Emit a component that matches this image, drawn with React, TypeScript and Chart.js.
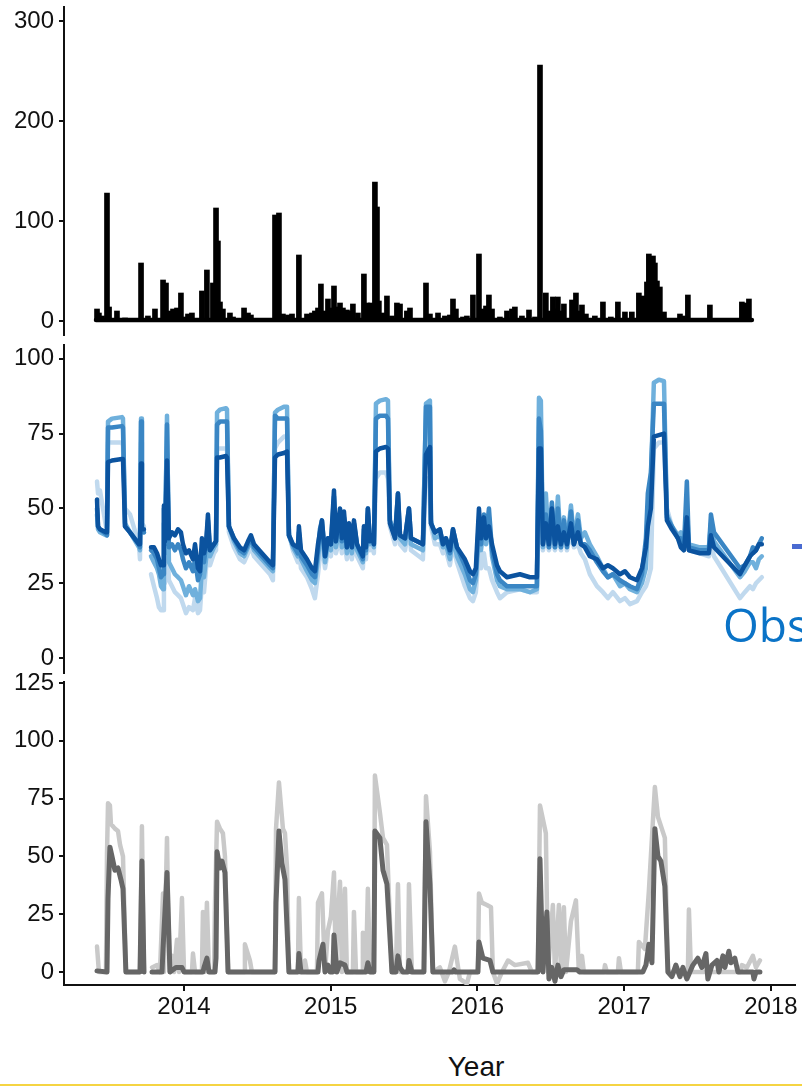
import React, { useEffect, useRef } from "react";
import { Chart, registerables } from "chart.js";
Chart.register(...registerables);

const FONT = "'Liberation Sans', Arial, sans-serif";
const AXIS = "#111111";
const X_MIN = 2013.182;
const X_MAX = 2018.164;

const yearTicks = [2014, 2015, 2016, 2017, 2018];
const rainTicks = [0, 100, 200, 300];
const midTicks = [0, 25, 50, 75, 100];
const lowTicks = [0, 25, 50, 75, 100, 125];

// top panel: daily spikes [year, value]
const rainBars = [
  [2013.407, 12], [2013.42, 8], [2013.441, 5], [2013.475, 128], [2013.489, 14], [2013.543, 10], [2013.598, 3],
  [2013.707, 58], [2013.754, 5], [2013.802, 12], [2013.857, 41], [2013.877, 38], [2013.904, 10], [2013.925, 12],
  [2013.952, 13], [2013.979, 28], [2014.007, 4], [2014.027, 7], [2014.054, 8], [2014.122, 30], [2014.156, 51],
  [2014.197, 38], [2014.218, 113], [2014.231, 80], [2014.245, 19], [2014.265, 12], [2014.313, 8], [2014.334, 4],
  [2014.409, 13], [2014.436, 8], [2014.456, 6], [2014.538, 2], [2014.565, 2], [2014.62, 106], [2014.647, 108],
  [2014.674, 7], [2014.708, 6], [2014.736, 7], [2014.783, 66], [2014.838, 7], [2014.858, 6], [2014.872, 8],
  [2014.892, 10], [2014.913, 13], [2014.933, 37], [2014.961, 10], [2014.981, 22], [2015.001, 13], [2015.022, 35],
  [2015.042, 14], [2015.063, 18], [2015.083, 13], [2015.11, 11], [2015.131, 10], [2015.151, 17], [2015.185, 8],
  [2015.226, 47], [2015.247, 18], [2015.274, 18], [2015.301, 139], [2015.315, 114], [2015.328, 20], [2015.356, 8],
  [2015.383, 25], [2015.417, 5], [2015.451, 18], [2015.472, 17], [2015.519, 10], [2015.54, 13], [2015.649, 38],
  [2015.676, 7], [2015.731, 8], [2015.778, 5], [2015.812, 6], [2015.833, 22], [2015.853, 12], [2015.901, 4],
  [2015.928, 5], [2015.969, 26], [2016.01, 67], [2016.037, 12], [2016.058, 15], [2016.078, 26], [2016.099, 12],
  [2016.153, 4], [2016.201, 10], [2016.235, 12], [2016.255, 14], [2016.303, 5], [2016.351, 11], [2016.392, 4],
  [2016.426, 256], [2016.466, 28], [2016.487, 10], [2016.514, 24], [2016.535, 12], [2016.548, 24], [2016.569, 10],
  [2016.589, 17], [2016.644, 21], [2016.671, 28], [2016.691, 10], [2016.712, 16], [2016.739, 7], [2016.8, 5],
  [2016.855, 19], [2016.909, 4], [2016.957, 19], [2017.005, 9], [2017.052, 9], [2017.1, 28], [2017.127, 25],
  [2017.155, 39], [2017.168, 67], [2017.182, 40], [2017.196, 65], [2017.209, 58], [2017.223, 40], [2017.243, 34],
  [2017.271, 9], [2017.311, 2], [2017.38, 7], [2017.4, 5], [2017.434, 26], [2017.482, 2], [2017.516, 2],
  [2017.584, 16], [2017.652, 1], [2017.72, 1], [2017.802, 19], [2017.822, 18], [2017.85, 22],
];
const rainBase = [[2013.4, 1], [2017.87, 1]];

// middle panel: shared dates + four series
const midYears = [
  2013.407, 2013.414, 2013.427, 2013.468, 2013.475, 2013.482, 2013.509, 2013.577, 2013.584, 2013.598,
  2013.632, 2013.693, 2013.7, 2013.707, 2013.713, 2013.727, 2013.748, 2013.775, 2013.795, 2013.816,
  2013.829, 2013.843, 2013.857, 2013.863, 2013.87, 2013.884, 2013.897, 2013.918, 2013.938, 2013.959,
  2013.979, 2013.993, 2014.013, 2014.034, 2014.061, 2014.075, 2014.095, 2014.109, 2014.122, 2014.136,
  2014.15, 2014.163, 2014.177, 2014.204, 2014.218, 2014.225, 2014.245, 2014.286, 2014.293, 2014.306,
  2014.34, 2014.381, 2014.409, 2014.436, 2014.456, 2014.477, 2014.531, 2014.586, 2014.606, 2014.62,
  2014.64, 2014.681, 2014.702, 2014.715, 2014.742, 2014.776, 2014.783, 2014.797, 2014.838, 2014.872,
  2014.892, 2014.913, 2014.926, 2014.94, 2014.961, 2014.981, 2015.001, 2015.022, 2015.035, 2015.063,
  2015.076, 2015.09, 2015.11, 2015.124, 2015.144, 2015.158, 2015.179, 2015.219, 2015.226, 2015.24,
  2015.253, 2015.267, 2015.281, 2015.294, 2015.308, 2015.335, 2015.376, 2015.39, 2015.403, 2015.438,
  2015.458, 2015.472, 2015.506, 2015.533, 2015.547, 2015.628, 2015.649, 2015.676, 2015.683, 2015.71,
  2015.744, 2015.765, 2015.785, 2015.812, 2015.833, 2015.86, 2015.914, 2015.949, 2015.969, 2015.989,
  2016.01, 2016.024, 2016.044, 2016.058, 2016.078, 2016.099, 2016.133, 2016.153, 2016.201, 2016.289,
  2016.357, 2016.405, 2016.419, 2016.432, 2016.446, 2016.466, 2016.487, 2016.507, 2016.528, 2016.548,
  2016.569, 2016.589, 2016.61, 2016.637, 2016.657, 2016.685, 2016.705, 2016.732, 2016.766, 2016.814,
  2016.855, 2016.889, 2016.923, 2016.971, 2017.005, 2017.039, 2017.087, 2017.121, 2017.148, 2017.161,
  2017.182, 2017.202, 2017.236, 2017.271, 2017.291, 2017.325, 2017.366, 2017.386, 2017.407, 2017.427,
  2017.441, 2017.516, 2017.577, 2017.591, 2017.612, 2017.789, 2017.822, 2017.857, 2017.877, 2017.898,
  2017.918, 2017.938,
];
const midLightest = [
  59, 55, 56, 44, 44, 72, 72, 72, 71, 50,
  48, 38, 33, 72, 45, 44, null, 28, 24, 20,
  17, 16, 16, 30, 25, 40, 26, 24, 22, 21,
  20, 18, 15, 17, 16, 20, 15, 16, 25, 22,
  30, 35, 31, 35, 36, 70, 70, 70, 70, 42,
  37, 33, 32, 35, 37, 34, 31, 28, 26, 70,
  72, 74, 74, 42, 36, 32, 38, 30, 27, 23,
  20, 28, 34, 38, 30, 36, 34, 46, 35, 40,
  35, 40, 33, 38, 33, 39, 34, 30, 38, 33,
  44, 36, 38, 35, 60, 62, 62, 60, 44, 38,
  48, 38, 36, 44, 36, 33, 60, 60, 44, 38,
  38, 35, 36, 31, 38, 32, 24, 20, 19, 22,
  36, 30, 35, 30, 30, 26, 22, 20, 22, 23,
  22, 22, 60, 40, 36, 40, 36, 40, 36, 40,
  36, 42, 36, 42, 37, 38, 35, 33, 28, 24,
  22, 20, 22, 19, 20, 18, 19, 22, 24, 26,
  30, 70, 72, 72, 50, 44, 40, 38, 36, 42,
  36, 35, 34, 38, 34, 20, 22, 24, 23, 25,
  26, 27,
];
const midLight = [
  48, 43, 42, 41, 41, 79, 80, 80.5, 80, 45,
  42, 37, 36, 80, 43, 42, null, 34, 32, 30,
  28, 24, 23, 45, 35, 81, 32, 30, 28, 27,
  26, 24, 21, 24, 21, 23, 19, 20, 30, 27,
  33, 40, 34, 37, 38, 82, 83, 83.5, 83, 44,
  39, 35, 34, 37, 39, 36, 33, 30, 29, 82,
  83, 84, 84, 41, 37, 34, 40, 33, 29, 26,
  25, 33, 40, 42, 32, 38, 36, 50, 37, 44,
  37, 44, 35, 41, 35, 42, 36, 32, 41, 35,
  48, 38, 40, 37, 85, 86, 86.5, 86, 46, 40,
  52, 40, 38, 48, 38, 36, 85, 86, 46, 40,
  41, 37, 38, 33, 40, 34, 28, 23, 22, 26,
  42, 36, 45, 38, 47, 34, 26, 24, 23, 23,
  22, 23, 87, 86, 37, 55, 37, 50, 37, 54,
  37, 47, 38, 51, 40, 48, 40, 42, 38, 34,
  30, 27, 28, 24, 25, 23, 22, 25, 30, 45,
  60, 92, 93, 92.5, 48, 44, 41, 42, 38, 50,
  38, 37, 37, 45, 39, 27, 29, 32, 32, 30,
  33, 34,
];
const midMedium = [
  50, 44, 43, 41.5, 41, 77, 77, 77.5, 77, 44,
  42, 38, 37, 79, 42, 42, null, 36, 35, 33,
  30, 27, 28, 50, 38, 78, 37, 38, 36, 38,
  36, 33, 30, 32, 29, 33, 26, 28, 36, 32,
  38, 46, 36, 38, 39, 78, 79, 79, 79, 44,
  40, 36, 35, 38, 40, 37, 34, 31, 30, 81,
  80, 80, 80, 41, 38, 35, 42, 34, 31, 28,
  27, 36, 43, 46, 34, 40, 38, 54, 39, 48,
  39, 47, 37, 44, 37, 45, 38, 33, 43, 36,
  50, 39, 41, 38, 80, 81, 81, 80, 46, 41,
  55, 41, 40, 50, 40, 38, 84, 84, 45, 42,
  43, 38, 40, 35, 43, 37, 31, 26, 25, 28,
  46, 38, 48, 40, 50, 36, 28, 26, 24, 24,
  24, 24, 80, 76, 38, 48, 37, 52, 37, 50,
  37, 46, 37, 49, 38, 46, 38, 38, 36, 32,
  29, 27, 28, 26, 25, 24, 23, 28, 40, 55,
  62, 85, 85, 85, 47, 44, 40, 40, 37, 59,
  37, 36, 36, 48, 42, 30, 31, 34, 37, 36,
  38, 40,
];
const midDark = [
  53, 44, 43, 42, 42, 65.5, 66, 66.5, 66.5, 44,
  42, 38, 38, 65, 43, 43, null, 37, 37, 35,
  33, 31, 31, 51, 39, 66, 40, 42, 41, 43,
  42, 38, 35, 36, 33, 38, 30, 29, 40, 35,
  38, 48, 36, 38, 39, 67, 67, 67.5, 67, 44,
  40, 37, 36, 39, 41, 38, 35, 32, 31, 67,
  68, 68.5, 69, 41, 38, 37, 44, 36, 33, 30,
  29, 38, 42, 46, 34, 40, 38, 56, 39, 50,
  40, 49, 37, 45, 37, 46, 38, 34, 44, 37,
  50, 39, 41, 38, 69, 70, 70.5, 70, 45, 40,
  55, 41, 40, 50, 40, 38, 68, 70.5, 45, 42,
  43, 38, 40, 36, 43, 37, 33, 29, 28, 30,
  50, 40, 47, 40, 44, 38, 31, 29, 27, 28,
  27, 27, 70, 70, 38, 45, 38, 50, 38, 44,
  38, 42, 38, 45, 38, 42, 38, 37, 34, 33,
  30, 31, 30, 28, 29, 27, 26, 30, 37, 44,
  50, 74, 74.5, 75, 46, 43, 40, 37, 36, 47,
  36, 35, 35, 41, 37, 28, 31, 34, 35, 36,
  38, 38,
];

// bottom panel: two series [year, value]
const grayDark = [
  [2013.407, 0.5], [2013.475, 0], [2013.482, 32], [2013.495, 54], [2013.509, 50], [2013.529, 44], [2013.55, 45],
  [2013.57, 40], [2013.584, 36], [2013.604, 0], [2013.7, 0], [2013.713, 48], [2013.727, 0], [2013.748, null],
  [2013.782, 0], [2013.85, 0], [2013.857, 10], [2013.884, 43], [2013.904, 0], [2013.945, 2], [2013.986, 2],
  [2014.0, 0], [2014.129, 0], [2014.136, 2], [2014.156, 6], [2014.17, 0], [2014.211, 0], [2014.218, 6],
  [2014.225, 52], [2014.245, 45], [2014.259, 48], [2014.279, 43], [2014.3, 0], [2014.62, 0], [2014.627, 30],
  [2014.647, 61], [2014.667, 47], [2014.688, 40], [2014.715, 0], [2014.776, 0], [2014.783, 8], [2014.797, 0],
  [2014.913, 0], [2014.92, 5], [2014.947, 12], [2014.961, 0], [2014.981, 3], [2014.995, 0], [2015.015, 0],
  [2015.022, 16], [2015.042, 0], [2015.063, 4], [2015.097, 3], [2015.11, 0], [2015.24, 0], [2015.253, 4],
  [2015.267, 0], [2015.294, 0], [2015.301, 61], [2015.335, 58], [2015.356, 44], [2015.383, 38], [2015.417, 0],
  [2015.444, 0], [2015.458, 7], [2015.472, 2], [2015.492, 0], [2015.526, 0], [2015.533, 5], [2015.553, 0],
  [2015.635, 0], [2015.649, 65], [2015.676, 38], [2015.696, 0], [2015.833, 0], [2015.84, 1], [2015.853, 0],
  [2016.003, 0], [2016.01, 13], [2016.037, 6], [2016.085, 5], [2016.105, 0], [2016.412, 0], [2016.426, 49],
  [2016.446, 0], [2016.473, 26], [2016.487, -3], [2016.507, 2], [2016.528, -4], [2016.548, 3], [2016.569, -2],
  [2016.589, 1], [2016.678, 1], [2016.698, 0], [2017.127, 0], [2017.148, 3], [2017.168, 12], [2017.189, 4],
  [2017.209, 62], [2017.23, 50], [2017.25, 48], [2017.277, 37], [2017.298, 0], [2017.325, -2], [2017.352, 3],
  [2017.38, -2], [2017.4, 2], [2017.427, -3], [2017.468, 3], [2017.502, 6], [2017.529, 2], [2017.557, 8],
  [2017.57, -3], [2017.598, 3], [2017.632, 5], [2017.645, 0], [2017.673, 7], [2017.686, 2], [2017.713, 9],
  [2017.727, 4], [2017.754, 6], [2017.775, 0], [2017.877, 0], [2017.884, -3], [2017.898, 0], [2017.925, 0],
];
const grayLight = [
  [2013.407, 11], [2013.42, 0], [2013.468, 0], [2013.475, 51], [2013.482, 73], [2013.495, 72], [2013.502, 64],
  [2013.529, 62], [2013.55, 61], [2013.564, 55], [2013.584, 50], [2013.604, 0], [2013.7, 0], [2013.713, 63],
  [2013.727, 0], [2013.748, null], [2013.782, 2], [2013.816, 3], [2013.836, 0], [2013.857, 34], [2013.863, 0],
  [2013.884, 58], [2013.891, 30], [2013.904, 0], [2013.918, 7], [2013.932, 0], [2013.952, 14], [2013.966, 0],
  [2013.986, 32], [2014.0, 0], [2014.054, 0], [2014.061, 8], [2014.075, 0], [2014.122, 0], [2014.129, 26],
  [2014.143, 0], [2014.156, 30], [2014.17, 0], [2014.204, 0], [2014.211, 29], [2014.225, 65], [2014.245, 62],
  [2014.265, 60], [2014.279, 50], [2014.3, 0], [2014.409, 0], [2014.415, 12], [2014.449, 5], [2014.463, 0],
  [2014.62, 0], [2014.627, 62], [2014.647, 82], [2014.674, 62], [2014.688, 60], [2014.702, 45], [2014.715, 0],
  [2014.776, 0], [2014.783, 32], [2014.797, 0], [2014.824, 5], [2014.838, 0], [2014.906, 0], [2014.913, 30],
  [2014.94, 34], [2014.961, 0], [2014.981, 18], [2015.001, 24], [2015.022, 43], [2015.035, 0], [2015.042, 17],
  [2015.063, 39], [2015.076, 0], [2015.097, 36], [2015.11, 0], [2015.151, 0], [2015.158, 26], [2015.172, 0],
  [2015.213, 0], [2015.219, 17], [2015.24, 0], [2015.253, 36], [2015.267, 0], [2015.294, 0], [2015.301, 85],
  [2015.335, 69], [2015.356, 58], [2015.383, 55], [2015.417, 0], [2015.444, 0], [2015.458, 38], [2015.472, 0],
  [2015.526, 0], [2015.533, 38], [2015.553, 0], [2015.635, 0], [2015.649, 76], [2015.676, 52], [2015.696, 0],
  [2015.744, 2], [2015.778, -4], [2015.805, 0], [2015.846, 11], [2015.88, -3], [2015.928, -5], [2015.949, 0],
  [2016.003, 0], [2016.01, 34], [2016.03, 30], [2016.064, 29], [2016.092, 28], [2016.105, 0], [2016.133, -5],
  [2016.167, 0], [2016.208, 5], [2016.255, 3], [2016.344, 4], [2016.371, 0], [2016.412, 0], [2016.426, 72],
  [2016.466, 60], [2016.48, 0], [2016.514, 29], [2016.528, 0], [2016.555, 29], [2016.569, 0], [2016.589, 28],
  [2016.603, 0], [2016.637, 22], [2016.671, 31], [2016.691, 0], [2016.712, 7], [2016.725, 0], [2016.862, 0],
  [2016.869, 3], [2016.882, 0], [2016.957, 0], [2016.964, 6], [2016.978, 0], [2017.093, 0], [2017.1, 13],
  [2017.141, 10], [2017.168, 35], [2017.209, 80], [2017.23, 67], [2017.277, 58], [2017.298, 0], [2017.434, 0],
  [2017.441, 27], [2017.455, 0], [2017.789, 0], [2017.802, 3], [2017.836, 2], [2017.877, 7], [2017.898, 2],
  [2017.925, 5],
];

const BLUE_LIGHTEST = "#c0d9ee";
const BLUE_LIGHT = "#6fb0dc";
const BLUE_MEDIUM = "#3a86c4";
const BLUE_DARK = "#0b539f";
const GRAY_LIGHT = "#c9c9c9";
const GRAY_DARK = "#666666";

const toPoints = (list) => list.map(([x, y]) => ({ x, y }));
const zipPoints = (xs, ys) => xs.map((x, i) => ({ x, y: ys[i] }));

function lineDs(data, color, width) {
  return {
    type: "line",
    data,
    borderColor: color,
    backgroundColor: color,
    borderWidth: width,
    pointRadius: 0,
    tension: 0,
    spanGaps: false,
    borderJoinStyle: "round",
    borderCapStyle: "round",
  };
}

function panelOptions(yMin, yMax, yTicks, showX, padding) {
  return {
    responsive: false,
    maintainAspectRatio: false,
    animation: false,
    events: [],
    layout: { padding },
    plugins: { legend: { display: false }, tooltip: { enabled: false } },
    scales: {
      x: {
        type: "linear",
        min: X_MIN,
        max: X_MAX,
        offset: false,
        display: showX,
        afterBuildTicks: (s) => {
          s.ticks = yearTicks.map((v) => ({ value: v }));
        },
        afterFit: (s) => {
          if (showX) s.height = 45;
          s.paddingLeft = 0;
          s.paddingRight = 0;
        },
        grid: { offset: false, drawOnChartArea: false, drawTicks: true, tickLength: 6, color: AXIS, lineWidth: 2 },
        border: { display: true, color: AXIS, width: 2 },
        ticks: {
          color: AXIS,
          font: { family: FONT, size: 24 },
          padding: 2,
          maxRotation: 0,
          autoSkip: false,
          callback: (v) => String(v),
        },
      },
      y: {
        type: "linear",
        min: yMin,
        max: yMax,
        afterBuildTicks: (s) => {
          s.ticks = yTicks.map((v) => ({ value: v }));
        },
        afterFit: (s) => {
          s.width = 64;
          s.paddingTop = 0;
          s.paddingBottom = 0;
        },
        grid: { drawOnChartArea: false, drawTicks: true, tickLength: 5, color: AXIS, lineWidth: 2 },
        border: { display: true, color: AXIS, width: 2 },
        ticks: { color: AXIS, font: { family: FONT, size: 24 }, padding: 5, callback: (v) => String(v) },
      },
    },
  };
}

export default function App() {
  const topRef = useRef(null);
  const midRef = useRef(null);
  const lowRef = useRef(null);

  useEffect(() => {
    Chart.defaults.font.family = FONT;
    const charts = [];
    charts.push(
      new Chart(topRef.current, {
        type: "bar",
        data: {
          datasets: [
            {
              type: "bar",
              data: toPoints(rainBars),
              backgroundColor: "#000000",
              borderWidth: 0,
              barThickness: 5,
              order: 2,
            },
            { ...lineDs(toPoints(rainBase), "#000000", 4.5), order: 1 },
          ],
        },
        options: panelOptions(-14, 314, rainTicks, false, { top: 7, right: 7, bottom: 5, left: 0 }),
      })
    );
    charts.push(
      new Chart(midRef.current, {
        type: "line",
        data: {
          datasets: [
            lineDs(zipPoints(midYears, midDark), BLUE_DARK, 4.5),
            lineDs(zipPoints(midYears, midMedium), BLUE_MEDIUM, 4.5),
            lineDs(zipPoints(midYears, midLight), BLUE_LIGHT, 4.5),
            lineDs(zipPoints(midYears, midLightest), BLUE_LIGHTEST, 4.5),
          ],
        },
        options: panelOptions(-5.0, 104.6, midTicks, false, { top: 5, right: 7, bottom: 7, left: 0 }),
      })
    );
    charts.push(
      new Chart(lowRef.current, {
        type: "line",
        data: {
          datasets: [
            lineDs(toPoints(grayDark), GRAY_DARK, 5),
            lineDs(toPoints(grayLight), GRAY_LIGHT, 4.5),
          ],
        },
        options: panelOptions(-5.6, 125.4, lowTicks, true, { top: 27, right: 7, bottom: 0, left: 0 }),
      })
    );
    return () => charts.forEach((c) => c.destroy());
  }, []);

  return (
    <div style={{ position: "absolute", left: 0, top: 0, width: 802, height: 1086, overflow: "hidden", background: "#fff" }}>
      <canvas ref={topRef} width={802} height={340} style={{ position: "absolute", left: 0, top: 0 }} />
      <canvas ref={midRef} width={802} height={340} style={{ position: "absolute", left: 0, top: 340 }} />
      <canvas ref={lowRef} width={802} height={375} style={{ position: "absolute", left: 0, top: 655 }} />
      <div style={{ position: "absolute", left: 792, top: 544, width: 12, height: 5, background: "#4a6bd1" }} />
      <div
        style={{
          position: "absolute",
          left: 723,
          top: 601,
          fontFamily: "'Open Sans', sans-serif",
          fontSize: 46,
          lineHeight: "46px",
          color: "#0a73c7",
          whiteSpace: "nowrap",
        }}
      >
        Obs
      </div>
      <div
        style={{
          position: "absolute",
          left: 376,
          top: 1053,
          width: 200,
          textAlign: "center",
          fontFamily: FONT,
          fontSize: 28,
          lineHeight: "28px",
          color: "#111",
        }}
      >
        Year
      </div>
      <div style={{ position: "absolute", left: 0, top: 1084, width: 802, height: 2, background: "#f5d442" }} />
    </div>
  );
}
